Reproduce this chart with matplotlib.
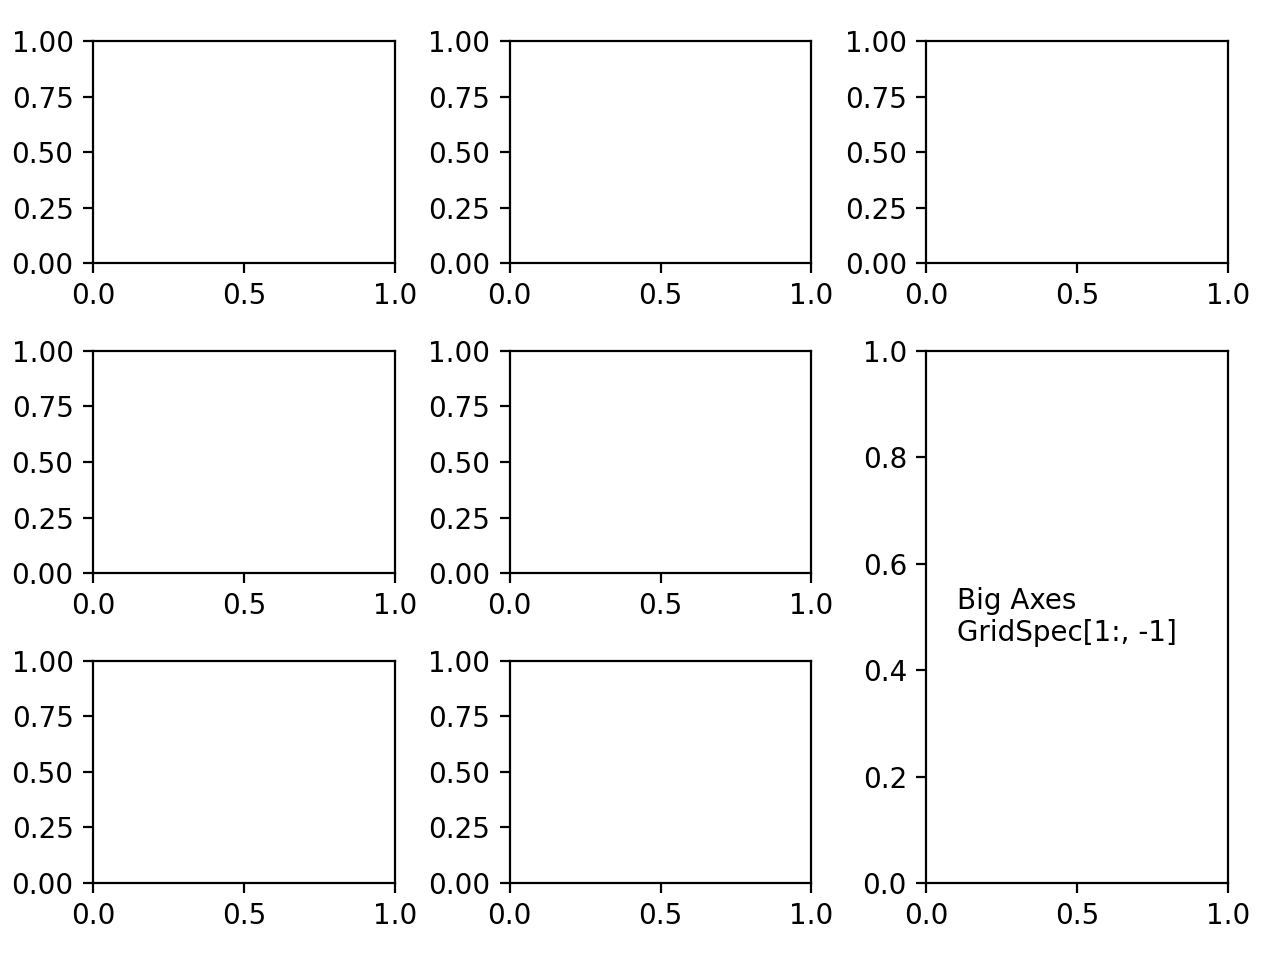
import matplotlib
matplotlib.use("Agg")
import matplotlib.pyplot as plt

# labels / text from the reference
big_label = 'Big Axes \nGridSpec[1:, -1]'
label_pos = (0.1, 0.5)
small_yticks = [0.0, 0.25, 0.5, 0.75, 1.0]

fig, axs = plt.subplots(ncols=3, nrows=3, figsize=(6.4, 4.8))
fig.subplots_adjust(left=0.0727, right=0.9594, top=0.9573, bottom=0.0802,
                    wspace=0.381, hspace=0.396)

# merge the lower two cells of the last column into one big axes
gs = axs[1, 2].get_gridspec()
for ax in axs[1:, -1]:
    ax.remove()
axbig = fig.add_subplot(gs[1:, -1])
axbig.annotate(big_label, label_pos, xycoords='axes fraction', va='center')

# small axes show quarter ticks on y
for ax in fig.axes:
    if ax is not axbig:
        ax.set_yticks(small_yticks)

plt.savefig("out.png", dpi=200)
